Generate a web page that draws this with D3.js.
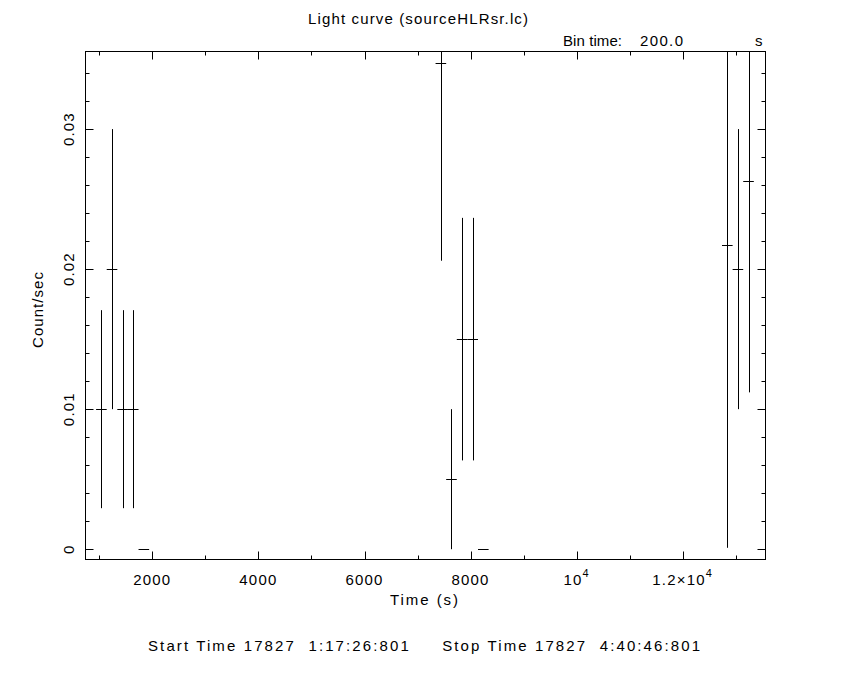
<!DOCTYPE html>
<html>
<head>
<meta charset="utf-8">
<script src="https://cdn.jsdelivr.net/npm/d3@7"></script>
<style>
  html, body { margin: 0; padding: 0; background: #fff; }
  svg { display: block; }
  text { font-family: "Liberation Sans", "DejaVu Sans", sans-serif; fill: #000; white-space: pre; }
</style>
</head>
<body>
<svg id="chart" width="850" height="680"></svg>
<script>
// ---- data ----
const times  = [1040, 1240, 1440, 1640, 1840, 7440, 7640, 7840, 8040, 8240, 12840, 13040, 13240];
const rates  = [0.01, 0.02, 0.01, 0.01, 0, 0.0347, 0.005, 0.015, 0.015, 0, 0.0217, 0.02, 0.0263];
const errors = [0.00707, 0.01, 0.00707, 0.00707, 0, 0.0141, 0.005, 0.00866, 0.00866, 0, 0.0216, 0.01, 0.0151];
const binHalf = 100;
const xMajorTicks = [2000, 4000, 6000, 8000, 10000, 12000];
const xTickLabels = [["2000"], ["4000"], ["6000"], ["8000"], ["10", "4"], ["1.2\u00d710", "4"]];
const yMajorTicks = [0, 0.01, 0.02, 0.03];
const yTickLabels = ["0", "0.01", "0.02", "0.03"];
const title = "Light curve (sourceHLRsr.lc)";
const binText = ["Bin time:", "200.0", "s"];
const xLabel = "Time (s)";
const yLabel = "Count/sec";
const footer = "Start Time 17827  1:17:26:801     Stop Time 17827  4:40:46:801";

// ---- layout ----
const L = 85.5, R = 765.5, T = 51.5, B = 559.5;
const svg = d3.select("#chart");
const x = d3.scaleLinear().domain([740, 13560]).range([L, R]);
const y = d3.scaleLinear().domain([-0.000735, 0.03554]).range([B, T]);
const px = v => Math.round(v) + 0.5;

const xMinor = d3.range(1000, 13600, 1000).filter(v => !xMajorTicks.includes(v));
const yMinor = d3.range(0, 0.0356, 0.002).filter(v => !yMajorTicks.some(m => Math.abs(m - v) < 1e-9));

const g = svg.append("g");

svg.append("clipPath").attr("id", "clip").append("rect")
  .attr("x", L).attr("y", T).attr("width", R - L).attr("height", B - T);

g.append("rect").attr("x", L).attr("y", T).attr("width", R - L).attr("height", B - T)
  .attr("fill", "none").attr("stroke", "#000").attr("stroke-width", 1);

const majLen = 8, minLen = 4;
function xt(vals, len) {
  vals.forEach(v => {
    g.append("line").attr("x1", px(x(v))).attr("x2", px(x(v))).attr("y1", B).attr("y2", B - len).attr("stroke", "#000");
    g.append("line").attr("x1", px(x(v))).attr("x2", px(x(v))).attr("y1", T).attr("y2", T + len).attr("stroke", "#000");
  });
}
function yt(vals, len) {
  vals.forEach(v => {
    g.append("line").attr("y1", px(y(v))).attr("y2", px(y(v))).attr("x1", L).attr("x2", L + len).attr("stroke", "#000");
    g.append("line").attr("y1", px(y(v))).attr("y2", px(y(v))).attr("x1", R).attr("x2", R - len).attr("stroke", "#000");
  });
}
xt(xMajorTicks, majLen); xt(xMinor, minLen);
yt(yMajorTicks, majLen); yt(yMinor, minLen);

const dg = svg.append("g").attr("clip-path", "url(#clip)");
times.forEach((t, i) => {
  dg.append("line").attr("x1", x(t - binHalf)).attr("x2", x(t + binHalf))
    .attr("y1", px(y(rates[i]))).attr("y2", px(y(rates[i]))).attr("stroke", "#000").attr("stroke-width", 1);
  if (errors[i] > 0) {
    dg.append("line").attr("x1", px(x(t))).attr("x2", px(x(t)))
      .attr("y1", y(rates[i] - errors[i])).attr("y2", y(rates[i] + errors[i]))
      .attr("stroke", "#000").attr("stroke-width", 1);
  }
});

// x tick labels
xMajorTicks.forEach((v, i) => {
  const t = svg.append("text").attr("x", x(v)).attr("y", 585).attr("text-anchor", "middle")
    .attr("font-size", 15).attr("letter-spacing", 1.2);
  t.append("tspan").text(xTickLabels[i][0]);
  if (xTickLabels[i][1]) {
    t.append("tspan").attr("dy", -8).attr("font-size", 11).text(xTickLabels[i][1]);
  }
});
// y tick labels
yMajorTicks.forEach((v, i) => {
  svg.append("text").attr("transform", `translate(74,${y(v)}) rotate(-90)`)
    .attr("text-anchor", "middle").attr("font-size", 15).attr("letter-spacing", 1.2).text(yTickLabels[i]);
});

function txt(s, xx, yy, len, anchor) {
  return svg.append("text").attr("x", xx).attr("y", yy).attr("text-anchor", anchor || "start")
    .attr("font-size", 15).attr("textLength", len).attr("lengthAdjust", "spacing").text(s);
}
txt(title, 308, 24, 220);
txt(binText[0], 563, 46, 59);
txt(binText[1], 640, 46, 43);
txt(binText[2], 755, 46, 7);
txt(xLabel, 390, 605, 68);
txt(footer, 148, 651, 552);
svg.append("text").attr("transform", `translate(43,348) rotate(-90)`)
  .attr("font-size", 15).attr("textLength", 76).attr("lengthAdjust", "spacing").text(yLabel);
</script>
</body>
</html>
